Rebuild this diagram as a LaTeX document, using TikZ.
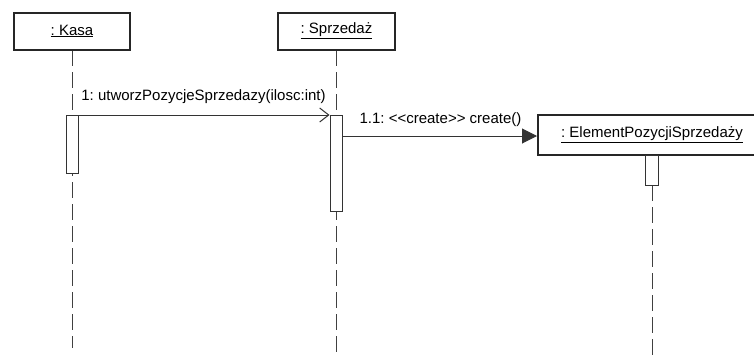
\documentclass[tikz,border=0pt]{standalone}
\usepackage{fontspec}
\setmainfont{Liberation Sans}
\usetikzlibrary{arrows.meta}
\frenchspacing
\begin{document}
\begin{tikzpicture}[x=1pt,y=-1pt,
  objbox/.style={draw=black!85,line width=2pt,fill=white,minimum height=37pt,inner sep=0pt,font=\fontsize{15}{18}\selectfont},
  act/.style={draw=black!80,line width=1pt,fill=white},
  lifeline/.style={draw=black!75,line width=1pt,dash pattern=on 16pt off 6pt},
  msg/.style={draw=black!80,line width=1pt},
  lbl/.style={font=\fontsize{15}{18}\selectfont,inner sep=0pt}]
\useasboundingbox (0,0) rectangle (754,356);
\clip (0,0) rectangle (754,356);
% lifelines
\coordinate (kt) at (72,50);
\coordinate (kb) at (72,348);
\coordinate (st) at (336,50);
\coordinate (sb) at (336,356);
\coordinate (et) at (652,185);
\coordinate (eb) at (652,356);
\draw[lifeline] (kt) -- (kb);
\draw[lifeline] (st) -- (sb);
\draw[lifeline] (et) -- (eb);
% objects
\node[objbox,minimum width=116pt] (kasa) at (72,31) {\underline{: Kasa}};
\node[objbox,minimum width=117pt] (sprz) at (336.5,31) {\underline{: Sprzeda\.z}};
\node[objbox,minimum width=228pt,minimum height=40pt] (elem) at (652,135) {\underline{: ElementPozycjiSprzeda\.zy}};
% activations
\node[act,minimum width=12pt,minimum height=58pt,inner sep=0pt,anchor=north] (ak) at (72,115) {};
\node[act,minimum width=12pt,minimum height=96pt,inner sep=0pt,anchor=north] (as) at (336,115) {};
\node[act,minimum width=13pt,minimum height=30pt,inner sep=0pt,anchor=north] (ae) at (652,155) {};
% messages
\draw[msg,-{Straight Barb[length=9pt,width=14pt,line width=1pt]}] (ak.north east) -- (as.north west);
\node[lbl] (m1) at (203.5,97) {1: utworzPozycjeSprzedazy(ilosc:int)};
\coordinate (m2s) at (342,136);
\draw[msg,-{Triangle[length=15pt,width=15pt]}] (m2s) -- (elem.west |- m2s);
\node[lbl] (m2) at (440.5,120) {1.1: <{}<create>{}> create()};
\end{tikzpicture}
\end{document}
